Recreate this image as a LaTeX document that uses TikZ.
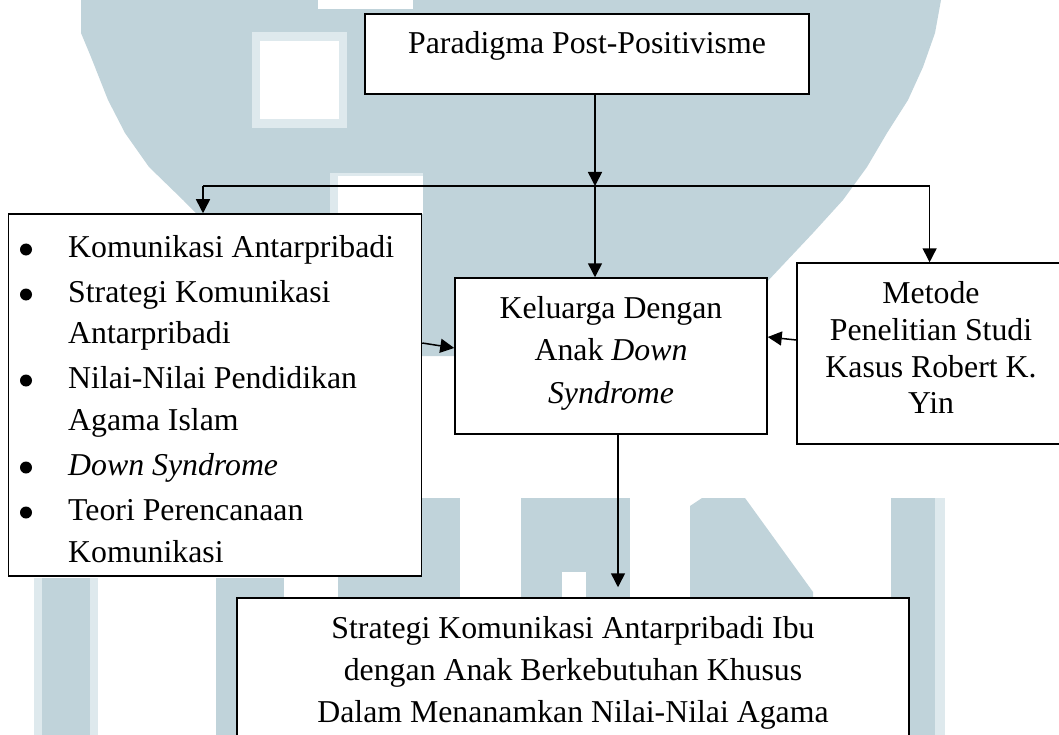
\documentclass[tikz,border=0pt]{standalone}
\usepackage{fontspec}
\setmainfont{Liberation Serif}
\usetikzlibrary{arrows.meta}
\definecolor{wmblue}{RGB}{192,211,218}
\definecolor{wmhalo}{RGB}{222,233,237}
\begin{document}
\begin{tikzpicture}[x=1pt,y=-1pt,
  box/.style={draw, line width=1.5pt, fill=white, inner sep=0pt, rectangle},
  txt/.style={font=\fontsize{31.8}{38}\selectfont, inner sep=0pt, anchor=base},
  ltxt/.style={txt, anchor=base west},
  link/.style={line width=1.5pt},
  arr/.style={line width=1.5pt, -{Triangle[length=14pt,width=14pt]}},
  wm/.style={fill=wmblue, draw=none},
  wmh/.style={fill=wmhalo, draw=none},
  hole/.style={fill=white, draw=none}]
\useasboundingbox (0,0) rectangle (1059,735);
\clip (0,0) rectangle (1059,735);
\fill[white] (0,0) rectangle (1059,735);

% background emblem
\path[wm] (81,-5) -- (81,33) -- (91,57) -- (108,100) -- (125,133) -- (149,167)
  -- (183,200) -- (338,356) -- (694,356) -- (764,285) -- (813,233) -- (843,200)
  -- (867,167) -- (887,133) -- (908,100) -- (923,67) -- (935,33) -- (941,0)
  -- (941,-5) -- cycle;
\path[hole] (318,-5) rectangle (413,9);
\path[wmh] (252,32) rectangle (347,128);
\path[hole] (260,41) rectangle (339,119);
\path[wmh] (330,173) rectangle (423,214);
\path[hole] (338,176) rectangle (423,214);
% background letters
\path[wmh] (34,578) rectangle (98,740);
\path[wm] (42,578) rectangle (90,740);
\path[wm] (216,578) rectangle (284,740);
\path[wm] (338,498) rectangle (460,600);
\path[wm] (521,498) rectangle (630,600);
\path[hole] (562,572) rectangle (586,600);
\path[wm] (690,600) -- (690,506) -- (702,498) -- (745,498) -- (813,592)
  -- (813,600) -- cycle;
\path[wmh] (891,498) rectangle (945,740);
\path[wm] (891,498) rectangle (935,740);

% boxes
\node[box, minimum width=444pt, minimum height=80pt] (top) at (587,54) {};
\node[box, minimum width=413pt, minimum height=362pt] (lb) at (215,395) {};
\node[box, minimum width=312pt, minimum height=156pt] (kel) at (611,356) {};
\node[box, minimum width=268pt, minimum height=181pt] (met) at (931,353.5) {};
\node[box, minimum width=672pt, minimum height=172pt] (bot) at (573,684) {};

% box texts
\node[txt] (t0) at (587,54) {Paradigma Post-Positivisme};

\node[txt] (k1) at (611,318) {Keluarga Dengan};
\node[txt] (k2) at (611,360) {Anak \textit{Down}};
\node[txt] (k3) at (611,403) {\textit{Syndrome}};

\node[txt] (m1) at (931,303) {Metode};
\node[txt] (m2) at (931,340) {Penelitian Studi};
\node[txt] (m3) at (931,377) {Kasus Robert K.};
\node[txt] (m4) at (931,413) {Yin};

\node[txt] (b1) at (573,638) {Strategi Komunikasi Antarpribadi Ibu};
\node[txt] (b2) at (573,680) {dengan Anak Berkebutuhan Khusus};
\node[txt] (b3) at (573,722) {Dalam Menanamkan Nilai-Nilai Agama};

% bulleted list
\node[ltxt] (l1) at (68,257) {Komunikasi Antarpribadi};
\node[ltxt] (l2) at (68,302) {Strategi Komunikasi};
\node[ltxt] (l3) at (68,343) {Antarpribadi};
\node[ltxt] (l4) at (68,388) {Nilai-Nilai Pendidikan};
\node[ltxt] (l5) at (68,430) {Agama Islam};
\node[ltxt] (l6) at (68,475) {\textit{Down Syndrome}};
\node[ltxt] (l7) at (68,520) {Teori Perencanaan};
\node[ltxt] (l8) at (68,562) {Komunikasi};
\foreach \yb in {257,302,388,475,520}
  \fill (26,\yb-7.5) circle (6pt);

% connector points
\coordinate (hl) at (203,186);
\coordinate (hm) at (595,186);
\coordinate (hr) at (929.6,186);
\coordinate (bx) at (618,0);
\coordinate (pL) at (0,343);
\coordinate (pK) at (0,348);
\coordinate (pM) at (0,340);
\coordinate (pK2) at (0,337);

% connectors
\draw[arr] (top.south -| hm) -- (hm);
\draw[link] (hl) -- (hr);
\draw[arr] (hl) -- (lb.north -| hl);
\draw[arr] (hm) -- (kel.north -| hm);
\draw[arr] (hr) -- (met.north -| hr);
\draw[arr] (lb.east |- pL) -- (kel.west |- pK);
\draw[arr] (met.west |- pM) -- (kel.east |- pK2);
\draw[arr, shorten >=10pt] (kel.south -| bx) -- (bot.north -| bx);
\end{tikzpicture}
\end{document}
